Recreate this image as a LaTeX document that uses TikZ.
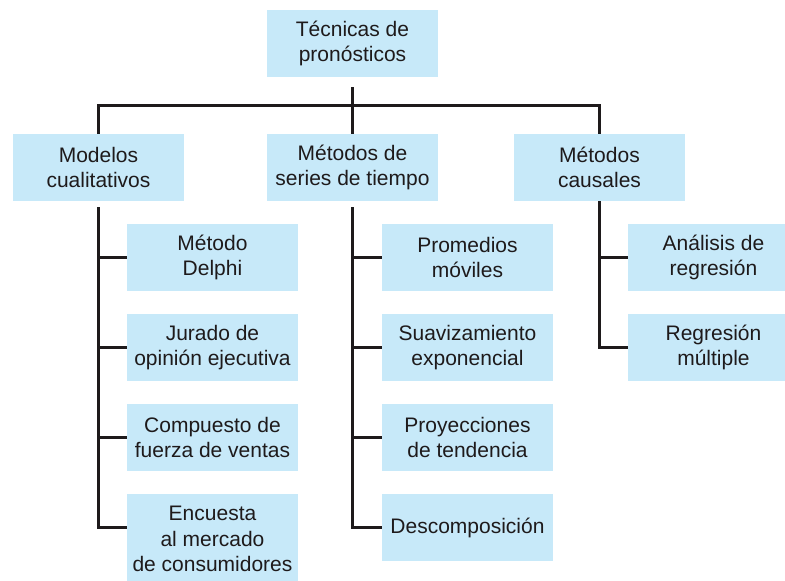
\documentclass[tikz,border=0pt]{standalone}
\usepackage{fontspec}
\setmainfont{Liberation Sans}
\usepackage{xcolor}
\usetikzlibrary{positioning, calc}
\definecolor{boxfill}{HTML}{C7E9F9}
\definecolor{inkcol}{HTML}{1E1A1B}

\begin{document}
\begin{tikzpicture}[
  x=1pt, y=-1pt,
  tech/.style={rectangle, fill=boxfill, draw=none,
               minimum width=171pt, minimum height=67pt, inner sep=2pt,
               align=center, text=inkcol,
               font=\fontsize{21}{25.5}\selectfont},
  link/.style={draw=inkcol, line width=2.6pt, line join=miter},
]
  \useasboundingbox (0,0) rectangle (785,581);
  % root and main families
  \node[tech] (tec) at (352.5,43.5) {Técnicas de\\pronósticos};
  \node[tech] (cual) at (98.5,167.5) {Modelos\\cualitativos};
  \node[tech] (series) at (352.5,167.5) {Métodos de\\series de tiempo};
  \node[tech] (caus) at (599.5,167.5) {Métodos\\causales};
  % qualitative models
  \node[tech] (delphi) at (212.5,257.5) {Método\\Delphi};
  \node[tech] (jurado) at (212.5,347.5) {Jurado de\\opinión ejecutiva};
  \node[tech] (fuerza) at (212.5,437.5) {Compuesto de\\fuerza de ventas};
  \node[tech, minimum height=90pt] (encuesta) at (212.5,539) {Encuesta\\al mercado\\de consumidores};
  % time series
  \node[tech] (promedios) at (467.5,257.5) {Promedios\\móviles};
  \node[tech] (suav) at (467.5,347.5) {Suavizamiento\\exponencial};
  \node[tech] (proy) at (467.5,437.5) {Proyecciones\\de tendencia};
  \node[tech] (descomp) at (467.5,527.5) {Descomposición};
  % causal
  \node[tech] (analisis) at (713.5,257.5) {Análisis de\\regresión};
  \node[tech] (multiple) at (713.5,347.5) {Regresión\\múltiple};

  \coordinate (bar) at (352.5,105.5);
  \draw[link] (cual.north) |- (bar) -| (caus.north);
  \draw[link] ([yshift=-10pt]tec.south) -- (series.north);

  \foreach \c in {delphi, jurado, fuerza} {
    \draw[link] ([yshift=-6pt]cual.south) |- (\c.west);
  }
  \draw[link] ([yshift=-6pt]cual.south) |- ($(encuesta.north west)+(0pt,-33.5pt)$);
  \foreach \c in {promedios, suav, proy, descomp} {
    \draw[link] ([yshift=-6pt]series.south) |- (\c.west);
  }
  \foreach \c in {analisis, multiple} {
    \draw[link] (caus.south) |- (\c.west);
  }
\end{tikzpicture}
\end{document}
